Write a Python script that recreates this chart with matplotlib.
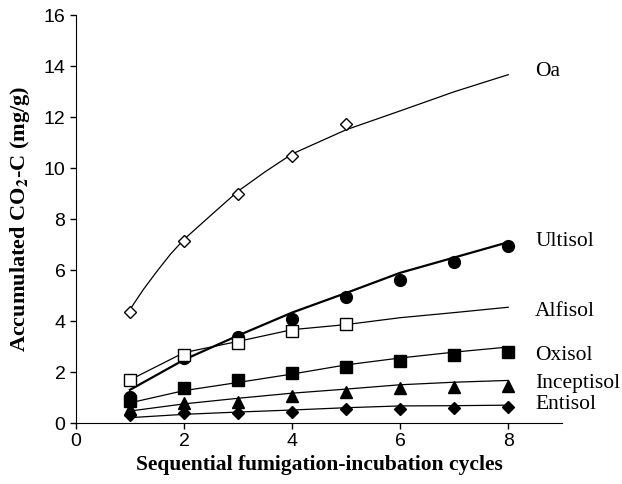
import matplotlib
matplotlib.use("Agg")
import matplotlib.pyplot as plt

plt.rcParams["mathtext.fontset"] = "stix"

# measured points (cycle number vs accumulated CO2-C, mg/g)
cycles = [1, 2, 3, 4, 5, 6, 7, 8]
oa_x = [1, 2, 3, 4, 5]
oa_y = [4.37, 7.13, 8.98, 10.47, 11.73]
ultisol_y = [1.02, 2.56, 3.39, 4.09, 4.96, 5.59, 6.33, 6.93]
alfisol_x = [1, 2, 3, 4, 5]
alfisol_y = [1.69, 2.68, 3.15, 3.62, 3.90]
oxisol_y = [0.87, 1.38, 1.69, 1.97, 2.20, 2.44, 2.68, 2.80]
inceptisol_y = [0.55, 0.79, 0.83, 1.06, 1.22, 1.38, 1.42, 1.46]
entisol_y = [0.31, 0.39, 0.40, 0.43, 0.55, 0.55, 0.60, 0.63]

# fitted curves
oa_fit_x = [1, 1.25, 1.5, 1.75, 2, 2.5, 3, 3.5, 4, 5, 6, 7, 8]
oa_fit_y = [4.45, 5.24, 5.95, 6.62, 7.2, 8.15, 9.09, 9.85, 10.55, 11.5, 12.24, 12.99, 13.66]
ultisol_fit = [1.3, 2.48, 3.43, 4.33, 5.1, 5.89, 6.49, 7.09]
alfisol_fit = [1.69, 2.76, 3.2, 3.66, 3.86, 4.13, 4.33, 4.54]
oxisol_fit = [0.79, 1.27, 1.59, 1.92, 2.28, 2.55, 2.78, 2.98]
inceptisol_fit = [0.47, 0.75, 0.97, 1.17, 1.33, 1.5, 1.6, 1.67]
entisol_fit = [0.21, 0.34, 0.43, 0.51, 0.6, 0.67, 0.68, 0.7]

labels = ["Oa", "Ultisol", "Alfisol", "Oxisol", "Inceptisol", "Entisol"]
label_y = [13.8, 7.1, 4.37, 2.64, 1.54, 0.71]

fig = plt.figure(figsize=(6.22, 4.84), dpi=100)
ax = fig.add_axes([0.122, 0.126, 0.782, 0.843])

lw = 0.9
ax.plot(oa_fit_x, oa_fit_y, color="black", lw=lw)
ax.plot(cycles, ultisol_fit, color="black", lw=1.6)
ax.plot(cycles, alfisol_fit, color="black", lw=lw)
ax.plot(cycles, oxisol_fit, color="black", lw=lw)
ax.plot(cycles, inceptisol_fit, color="black", lw=lw)
ax.plot(cycles, entisol_fit, color="black", lw=lw)

ax.plot(oa_x, oa_y, ls="none", marker="D", ms=6.5, mfc="white", mec="black", mew=1)
ax.plot(cycles, entisol_y, ls="none", marker="D", ms=6.5, color="black")
ax.plot(cycles, inceptisol_y, ls="none", marker="^", ms=8, color="black")
ax.plot(cycles, oxisol_y, ls="none", marker="s", ms=8, color="black")
ax.plot(cycles, ultisol_y, ls="none", marker="o", ms=8.5, color="black")
ax.plot(alfisol_x, alfisol_y, ls="none", marker="s", ms=8, mfc="white", mec="black", mew=1)

for name, y in zip(labels, label_y):
    ax.text(8.5, y, name, fontsize=15.5, family="Liberation Serif", va="center", ha="left")

ax.set_xlim(0, 9)
ax.set_ylim(0, 16)
ax.set_xticks([0, 2, 4, 6, 8])
ax.set_yticks(range(0, 17, 2))
ax.spines["top"].set_visible(False)
ax.spines["right"].set_visible(False)
ax.tick_params(direction="out", length=4, width=1, labelsize=14)
for t in ax.get_xticklabels() + ax.get_yticklabels():
    t.set_family("Liberation Sans")

ax.set_xlabel("Sequential fumigation-incubation cycles", fontsize=15.5,
              family="Liberation Serif", fontweight="bold", labelpad=3)
ax.set_ylabel(r"Accumulated CO$_\mathbf{2}$-C (mg/g)", fontsize=16,
              family="Liberation Serif", fontweight="bold", labelpad=8)

fig.savefig("out.png", dpi=100)
